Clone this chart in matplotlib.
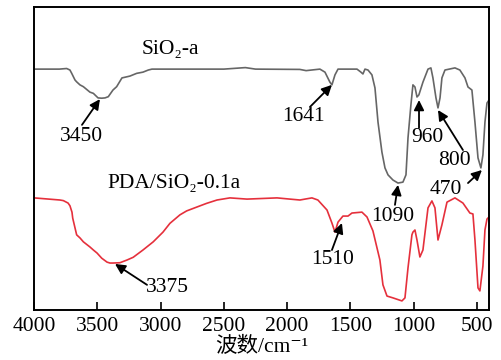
import matplotlib
matplotlib.use("Agg")
import matplotlib.pyplot as plt

plt.rcParams['font.family'] = ['Liberation Serif', 'Noto Sans CJK SC', 'DejaVu Serif']

# SiO2-a spectrum (wavenumber, transmittance a.u.)
sio2_w = [4000, 3800, 3742, 3716, 3702, 3676, 3663, 3637, 3610, 3558, 3531, 3494,
          3465, 3439, 3413, 3376, 3347, 3305, 3294, 3242, 3189, 3139, 3097, 3068,
          2768, 2500, 2330, 2250, 1900, 1850, 1741, 1701, 1662, 1646,
          1622, 1598, 1448, 1417, 1401, 1385, 1361, 1330, 1306, 1282, 1251, 1227,
          1203, 1164, 1124, 1085, 1061, 1045, 1022, 1006, 990, 974, 959, 927, 887,
          864, 848, 824, 808, 792, 777, 753, 674, 635, 595, 571, 540, 516, 492,
          469, 453, 437, 421, 405]
sio2_t = [79.5, 79.5, 79.7, 79.2, 78.1, 75.9, 75.3, 74.3, 73.7, 71.9, 71.5, 70.0,
          69.9, 70.0, 70.4, 72.6, 73.7, 76.6, 76.7, 77.2, 78.1, 78.5, 79.2, 79.5,
          79.5, 79.5, 80.0, 79.5, 79.4, 79.0, 79.5, 78.5, 75.2, 74.3,
          77.6, 79.5, 79.5, 78.5, 77.9, 79.5, 79.2, 77.6, 73.3, 62.0, 52.1, 46.9,
          44.6, 42.9, 41.9, 42.2, 44.6, 56.8, 67.7, 74.3, 73.6, 70.3, 71.0, 75.2,
          79.5, 79.9, 76.6, 70.0, 66.7, 70.0, 76.6, 79.2, 79.9, 79.2, 76.6, 73.6,
          72.6, 62.0, 50.2, 46.9, 51.2, 62.0, 68.3, 69.3]

# PDA/SiO2-0.1a spectrum
pda_w = [4000, 3795, 3768, 3731, 3716, 3700, 3694, 3676, 3663, 3637, 3610, 3558,
         3531, 3502, 3465, 3423, 3400, 3376, 3321, 3265, 3216, 3139, 3058, 2981,
         2926, 2847, 2794, 2712, 2636, 2554, 2452, 2317, 2080, 1978, 1899, 1859,
         1804, 1757,
         1685, 1646, 1622, 1598, 1559, 1519, 1488, 1409, 1369, 1322, 1267, 1243,
         1211, 1164, 1093, 1069, 1045, 1014, 1006, 990, 974, 951, 927, 887, 856,
         832, 808, 777, 737, 674, 611, 556, 532, 516, 492, 477, 453, 437, 421, 405]
pda_t = [37.0, 36.3, 36.1, 35.3, 34.4, 32.3, 30.3, 27.1, 24.8, 23.8, 22.5, 20.8,
         19.8, 18.8, 17.1, 15.8, 15.5, 15.5, 15.6, 16.5, 17.4, 19.8, 22.5, 25.7,
         28.6, 31.4, 32.7, 34.0, 35.2, 36.3, 37.0, 36.6, 37.0, 36.6, 36.3, 36.6,
         37.0, 36.3,
         33.0, 28.7, 25.7, 29.0, 31.0, 31.0, 32.0, 32.3, 30.7, 26.1, 16.5, 8.3,
         4.6, 4.0, 3.0, 4.0, 13.9, 24.8, 25.7, 26.4, 23.1, 17.5, 19.8, 33.7, 36.0,
         33.7, 23.1, 28.1, 35.6, 37.0, 35.3, 32.0, 31.7, 23.1, 7.3, 6.3, 14.5,
         26.4, 30.0, 30.7]

series_labels = ['SiO\u2082-a', 'PDA/SiO\u2082-0.1a']
peak_labels = ['3450', '1641', '960', '800', '470', '1090', '1510', '3375']
xticks = [4000, 3500, 3000, 2500, 2000, 1500, 1000, 500]

# layout (positions of labels / arrows)
label_pos = [(2926, 86.1), (2894, 41.6)]
peak_text = [(3629, 57.1), (1867, 64.0), (895, 56.8), (682, 49.5), (745, 39.9),
             (1164, 31.0), (1638, 16.8), (2949, 7.3)]
arrow_tail = [(3621, 61.1), (1820, 67.0), (958, 60.1), (611, 52.8), (571, 41.9),
              (1148, 34.7), (1646, 19.8), (3107, 8.3)]
arrow_tip = [(3479, 69.6), (1646, 74.3), (958, 69.3), (808, 66.0), (461, 46.2),
             (1124, 41.3), (1567, 28.7), (3360, 15.2)]

fig = plt.figure(figsize=(5.01, 3.6), dpi=100)
ax = fig.add_axes([34/501, 1-310/360, (489-34)/501, (310-7)/360])

ax.plot(sio2_w, sio2_t, color='#666666', lw=1.2)
ax.plot(pda_w, pda_t, color='#e5303c', lw=1.2)

ax.set_xlim(4000, 405)
ax.set_ylim(0, 100)
ax.set_yticks([])
ax.set_xticks(xticks)
ax.set_xticklabels([str(t) for t in xticks])
ax.tick_params(axis='x', direction='in', length=6, width=1.2, labelsize=15.5, pad=5)
for s in ax.spines.values():
    s.set_linewidth(1.4)

fs = 15.5
for lab, (x, y) in zip(series_labels, label_pos):
    ax.text(x, y, lab, fontsize=fs, ha='center', va='center')
for lab, (x, y) in zip(peak_labels, peak_text):
    ax.text(x, y, lab, fontsize=fs, ha='center', va='center')
for tail, tip in zip(arrow_tail, arrow_tip):
    ax.annotate('', xy=tip, xytext=tail,
                arrowprops=dict(arrowstyle='-|>', color='black', lw=1.3,
                                mutation_scale=15, shrinkA=0, shrinkB=0))

ax.set_xlabel('波数/cm\u207b\u00b9', fontsize=fs, labelpad=1)

fig.savefig('out.png', dpi=100)
